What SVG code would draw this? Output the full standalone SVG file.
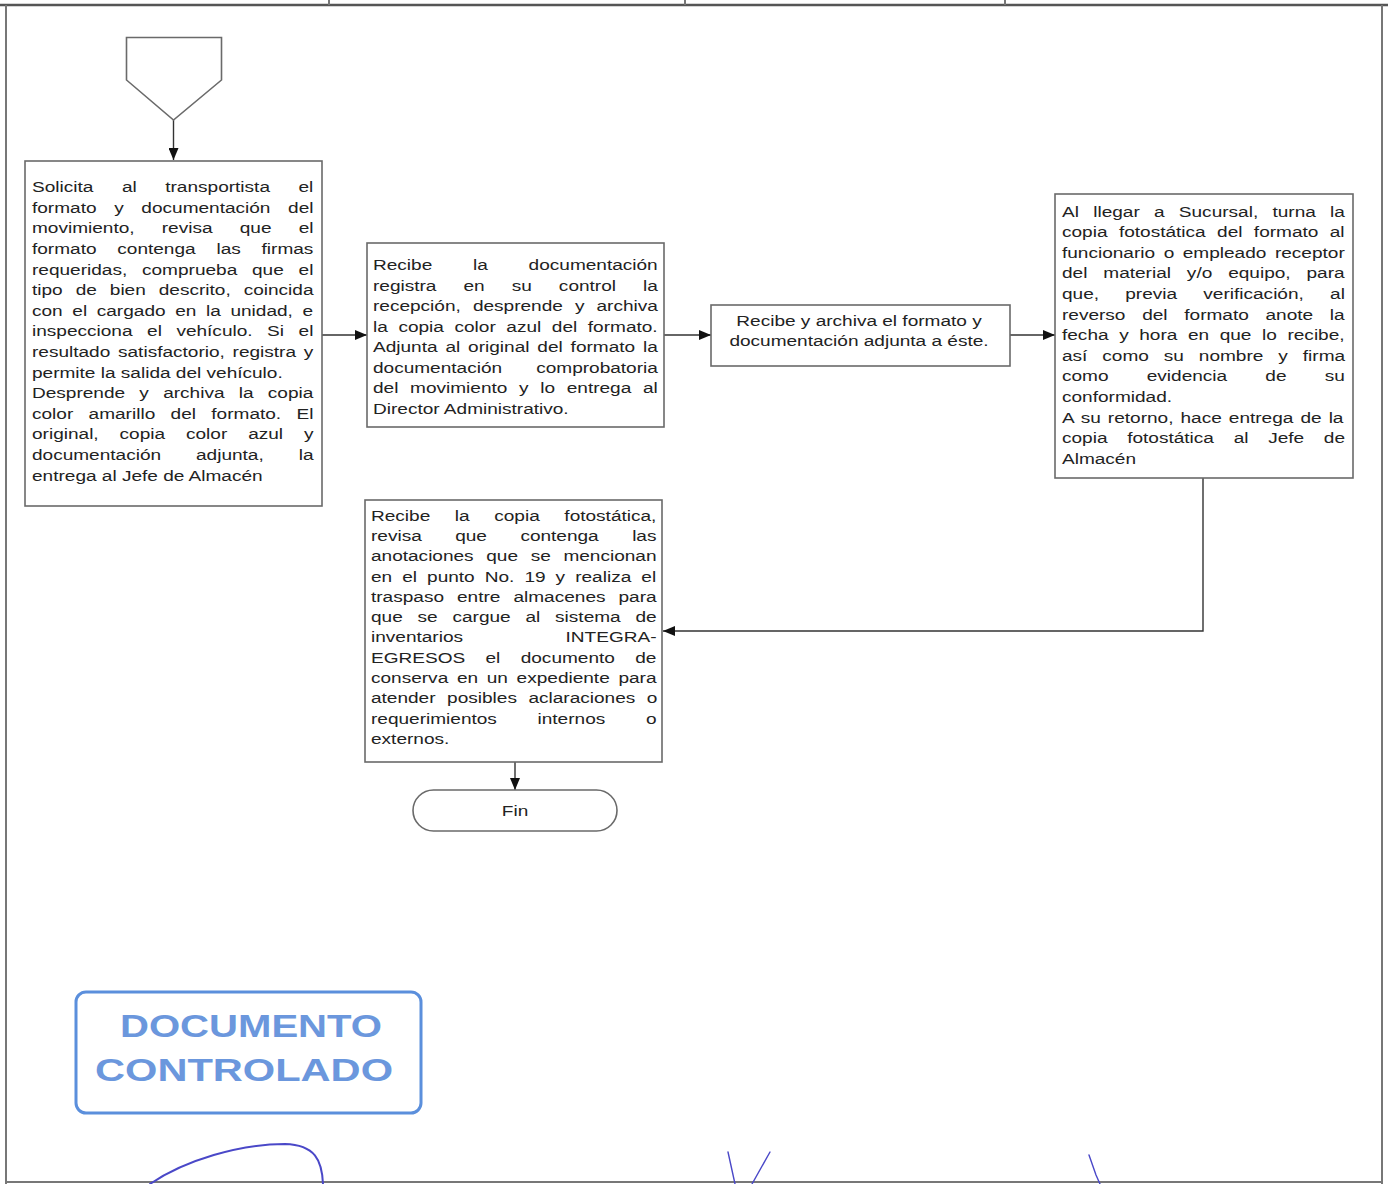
<svg xmlns="http://www.w3.org/2000/svg" width="1388" height="1184" viewBox="0 0 1388 1184">
<style>
.box{fill:#fff;stroke:#6a6a6a;stroke-width:1.6}
.t{font-family:"Liberation Sans",Arial,sans-serif;font-size:14px;fill:#222}
.ln{fill:none;stroke:#333;stroke-width:1.4}
.frame{fill:none;stroke:#777;stroke-width:2}
.sig{fill:none;stroke:#4a48c8;stroke-width:2;stroke-linecap:round}
</style>
<defs>
<marker id="ah" viewBox="0 0 12 10" refX="12" refY="5" markerWidth="12" markerHeight="10" markerUnits="userSpaceOnUse" orient="auto">
<path d="M0,0 L12,5 L0,10 Z" fill="#111"/>
</marker>
</defs>
<rect width="1388" height="1184" fill="#fff"/>
<g id="frame">
<line class="frame" x1="0" y1="5" x2="1388" y2="5" style="stroke:#555;stroke-width:2.5"/>
<line class="frame" x1="329" y1="0" x2="329" y2="5"/>
<line class="frame" x1="685" y1="0" x2="685" y2="5"/>
<line class="frame" x1="1005" y1="0" x2="1005" y2="5"/>
<line class="frame" x1="6" y1="5" x2="6" y2="1184"/>
<line class="frame" x1="1382" y1="5" x2="1382" y2="1184"/>
<line class="frame" x1="6" y1="1182" x2="1382" y2="1182"/>
</g>

<g id="connectors">
<line class="ln" x1="173.5" y1="120" x2="173.5" y2="160" marker-end="url(#ah)"/>
<line class="ln" x1="322" y1="335" x2="367" y2="335" marker-end="url(#ah)"/>
<line class="ln" x1="664" y1="335" x2="711" y2="335" marker-end="url(#ah)"/>
<line class="ln" x1="1010" y1="335" x2="1055" y2="335" marker-end="url(#ah)"/>
<polyline class="ln" points="1203,478 1203,631 663,631" marker-end="url(#ah)"/>
<line class="ln" x1="515" y1="762" x2="515" y2="790" marker-end="url(#ah)"/>
</g>

<g id="start">
<polygon class="box" points="126.5,37.5 221.5,37.5 221.5,80 173.5,120 126.5,80"/>
</g>

<g id="n1">
<rect class="box" x="25" y="161" width="297" height="345"/>
<g transform="translate(32,0) scale(1.36,1)">
<text class="t" y="192.3" word-spacing="17.1">Solicita al transportista el</text>
<text class="t" y="212.9" word-spacing="9.1">formato y documentación del</text>
<text class="t" y="233.5" word-spacing="16.1">movimiento, revisa que el</text>
<text class="t" y="254.1" word-spacing="11.4">formato contenga las firmas</text>
<text class="t" y="274.7" word-spacing="7">requeridas, comprueba que el</text>
<text class="t" y="295.3" word-spacing="5.65">tipo de bien descrito, coincida</text>
<text class="t" y="315.9" word-spacing="3.2">con el cargado en la unidad, e</text>
<text class="t" y="336.5" word-spacing="6.8">inspecciona el vehículo. Si el</text>
<text class="t" y="357.1" word-spacing="1.8">resultado satisfactorio, registra y</text>
<text class="t" y="377.7">permite la salida del vehículo.</text>
<text class="t" y="398.3" word-spacing="6.6">Desprende y archiva la copia</text>
<text class="t" y="418.9" word-spacing="7.4">color amarillo del formato. El</text>
<text class="t" y="439.5" word-spacing="11.5">original, copia color azul y</text>
<text class="t" y="460.1" word-spacing="21.8">documentación adjunta, la</text>
<text class="t" y="480.7">entrega al Jefe de Almacén</text>
</g>
</g>

<g id="n2">
<rect class="box" x="367" y="243" width="297" height="184"/>
<g transform="translate(373,0) scale(1.36,1)">
<text class="t" y="270.5" word-spacing="26.1">Recibe la documentación</text>
<text class="t" y="291" word-spacing="16">registra en su control la</text>
<text class="t" y="311.5" word-spacing="5">recepción, desprende y archiva</text>
<text class="t" y="332" word-spacing="3.9">la copia color azul del formato.</text>
<text class="t" y="352.5" word-spacing="1.9">Adjunta al original del formato la</text>
<text class="t" y="373" word-spacing="21.2">documentación comprobatoria</text>
<text class="t" y="393.5" word-spacing="4.7">del movimiento y lo entrega al</text>
<text class="t" y="414">Director Administrativo.</text>
</g>
</g>

<g id="n3">
<rect class="box" x="711" y="305" width="299" height="61"/>
<g transform="translate(859,0) scale(1.36,1)">
<text class="t" y="325.7" text-anchor="middle">Recibe y archiva el formato y</text>
<text class="t" y="345.7" text-anchor="middle">documentación adjunta a éste.</text>
</g>
</g>

<g id="n4">
<rect class="box" x="1055" y="194" width="298" height="284"/>
<g transform="translate(1062,0) scale(1.36,1)">
<text class="t" y="216.7" word-spacing="6.6">Al llegar a Sucursal, turna la</text>
<text class="t" y="237.3" word-spacing="4.5">copia fotostática del formato al</text>
<text class="t" y="257.9" word-spacing="2.4">funcionario o empleado receptor</text>
<text class="t" y="278.5" word-spacing="7.8">del material y/o equipo, para</text>
<text class="t" y="299.1" word-spacing="15.4">que, previa verificación, al</text>
<text class="t" y="319.7" word-spacing="8.4">reverso del formato anote la</text>
<text class="t" y="340.3" word-spacing="3.9">fecha y hora en que lo recibe,</text>
<text class="t" y="360.9" word-spacing="7.1">así como su nombre y firma</text>
<text class="t" y="381.5" word-spacing="24.2">como evidencia de su</text>
<text class="t" y="402.1">conformidad.</text>
<text class="t" y="422.7" word-spacing="1.3">A su retorno, hace entrega de la</text>
<text class="t" y="443.3" word-spacing="10.6">copia fotostática al Jefe de</text>
<text class="t" y="463.9">Almacén</text>
</g>
</g>

<g id="n5">
<rect class="box" x="365" y="500" width="297" height="262"/>
<g transform="translate(371,0) scale(1.36,1)">
<text class="t" y="520.7" word-spacing="14.2">Recibe la copia fotostática,</text>
<text class="t" y="541" word-spacing="20.7">revisa que contenga las</text>
<text class="t" y="561.3" word-spacing="5.4">anotaciones que se mencionan</text>
<text class="t" y="581.6" word-spacing="3.5">en el punto No. 19 y realiza el</text>
<text class="t" y="601.9" word-spacing="5.7">traspaso entre almacenes para</text>
<text class="t" y="622.2" word-spacing="7">que se cargue al sistema de</text>
<text class="t" y="642.5" word-spacing="71.5">inventarios INTEGRA-</text>
<text class="t" y="662.8" word-spacing="11.1">EGRESOS el documento de</text>
<text class="t" y="683.1" word-spacing="2.5">conserva en un expediente para</text>
<text class="t" y="703.4" word-spacing="4.6">atender posibles aclaraciones o</text>
<text class="t" y="723.7" word-spacing="26">requerimientos internos o</text>
<text class="t" y="744">externos.</text>
</g>
</g>

<g id="fin">
<rect class="box" x="413" y="790" width="204" height="41" rx="20.5"/>
<g transform="translate(515,0) scale(1.36,1)">
<text class="t" y="816" text-anchor="middle">Fin</text>
</g>
</g>

<g id="stamp">
<rect x="76" y="992" width="345" height="121" rx="10" fill="none" stroke="#5b8fdc" stroke-width="3"/>
<text x="120" y="1037" textLength="262" lengthAdjust="spacingAndGlyphs" style="font-family:'Liberation Sans',Arial,sans-serif;font-size:31px;font-weight:bold;fill:#6b97dd">DOCUMENTO</text>
<text x="95" y="1081" textLength="298" lengthAdjust="spacingAndGlyphs" style="font-family:'Liberation Sans',Arial,sans-serif;font-size:31px;font-weight:bold;fill:#6b97dd">CONTROLADO</text>
</g>

<g id="signatures">
<path class="sig" d="M150,1184 C185,1160 240,1144 285,1144 C315,1145 322,1160 323,1184"/>
<path class="sig" style="stroke-width:1.4" d="M728,1152 L735,1184 M770,1152 L752,1184"/>
<path class="sig" style="stroke-width:1.4" d="M1089,1155 L1096,1175 L1100,1184"/>
</g>
</svg>
